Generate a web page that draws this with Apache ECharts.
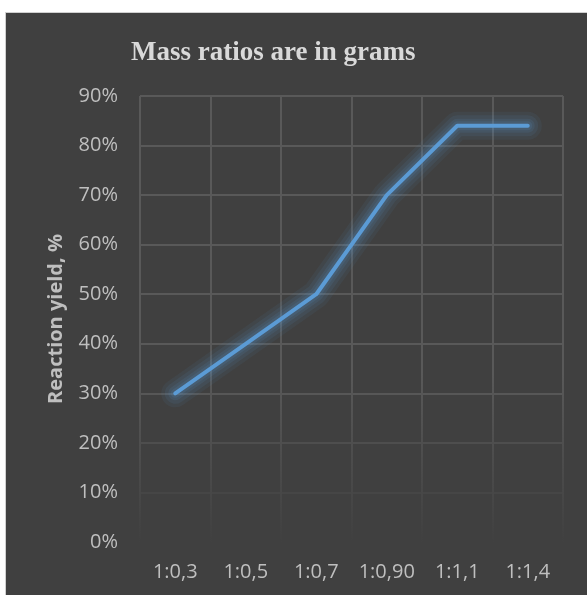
<!DOCTYPE html>
<html>
<head>
<meta charset="utf-8">
<script src="https://cdn.jsdelivr.net/npm/echarts@6/dist/echarts.min.js"></script>
<style>
  html, body { margin: 0; padding: 0; background: #ffffff; }
  #chart {
    position: absolute; left: 5px; top: 12px;
    width: 582px; height: 583px;
    box-sizing: border-box;
    border-top: 1px solid #d0d0d0; border-left: 1px solid #d0d0d0;
  }
</style>
</head>
<body>
<div id="chart"></div>
<script>
// Mass ratio categories and measured reaction yield (%)
const ratios = ['1:0,3', '1:0,5', '1:0,7', '1:0,90', '1:1,1', '1:1,4'];
const yieldPct = [30, 40, 50, 70, 84, 84];
const yTicks = [0, 10, 20, 30, 40, 50, 60, 70, 80, 90];

const chart = echarts.init(document.getElementById('chart'), null, { renderer: 'canvas' });

// gridlines fade out toward the bottom of the plot
const hLineColors = ['#404040', '#464646', '#4e4e4e', '#575757', '#595959', '#595959', '#595959', '#595959', '#595959', '#595959'];

// soft glow around the yield line, built from wide translucent strokes
const glowLayers = [
  { width: 28, alpha: 0.07 },
  { width: 21, alpha: 0.09 },
  { width: 14, alpha: 0.11 },
  { width: 9, alpha: 0.12 }
];

const glowSeries = glowLayers.map((g, i) => ({
  type: 'line',
  data: yieldPct,
  symbol: 'none',
  silent: true,
  z: 1 + i * 0.1,
  lineStyle: {
    color: `rgba(91, 155, 213, ${g.alpha})`,
    width: g.width,
    cap: 'round',
    join: 'round'
  }
}));

chart.setOption({
  backgroundColor: '#404040',
  animation: false,
  title: {
    text: 'Mass ratios are in grams',
    left: 120,
    top: 22,
    textStyle: {
      fontFamily: '"Liberation Serif", "Times New Roman", serif',
      fontWeight: 'bold',
      fontSize: 27,
      color: '#d9d9d9'
    }
  },
  grid: { left: 134, right: 24, top: 83, bottom: 53, containLabel: false },
  xAxis: {
    type: 'category',
    data: ratios,
    boundaryGap: true,
    axisLine: { show: false },
    axisTick: { show: false, interval: 0 },
    axisLabel: {
      interval: 0,
      color: '#bfbfbf',
      fontFamily: '"Open Sans", sans-serif',
      fontSize: 20,
      margin: 20
    },
    splitLine: {
      show: true,
      interval: 0,
      lineStyle: {
        width: 2,
        color: {
          type: 'linear', x: 0, y: 83, x2: 0, y2: 530, global: true,
          colorStops: [
            { offset: 0, color: '#595959' },
            { offset: 0.62, color: '#595959' },
            { offset: 1, color: '#404040' }
          ]
        }
      }
    }
  },
  yAxis: {
    type: 'value',
    min: yTicks[0],
    max: yTicks[yTicks.length - 1],
    interval: 10,
    name: 'Reaction yield, %',
    nameLocation: 'middle',
    nameGap: 74,
    nameRotate: 90,
    nameTextStyle: {
      color: '#bfbfbf',
      fontFamily: '"Open Sans", sans-serif',
      fontWeight: 'bold',
      fontSize: 20
    },
    axisLine: { show: false },
    axisTick: { show: false },
    axisLabel: {
      color: '#bfbfbf',
      fontFamily: '"Open Sans", sans-serif',
      fontSize: 20,
      margin: 22,
      formatter: v => v + '%'
    },
    splitLine: {
      show: true,
      showMinLine: true,
      showMaxLine: true,
      lineStyle: { width: 2, color: hLineColors }
    }
  },
  series: glowSeries.concat([{
    type: 'line',
    data: yieldPct,
    symbol: 'none',
    z: 3,
    lineStyle: {
      color: '#5b9bd5',
      width: 4,
      cap: 'round',
      join: 'round'
    }
  }])
});
</script>
</body>
</html>
